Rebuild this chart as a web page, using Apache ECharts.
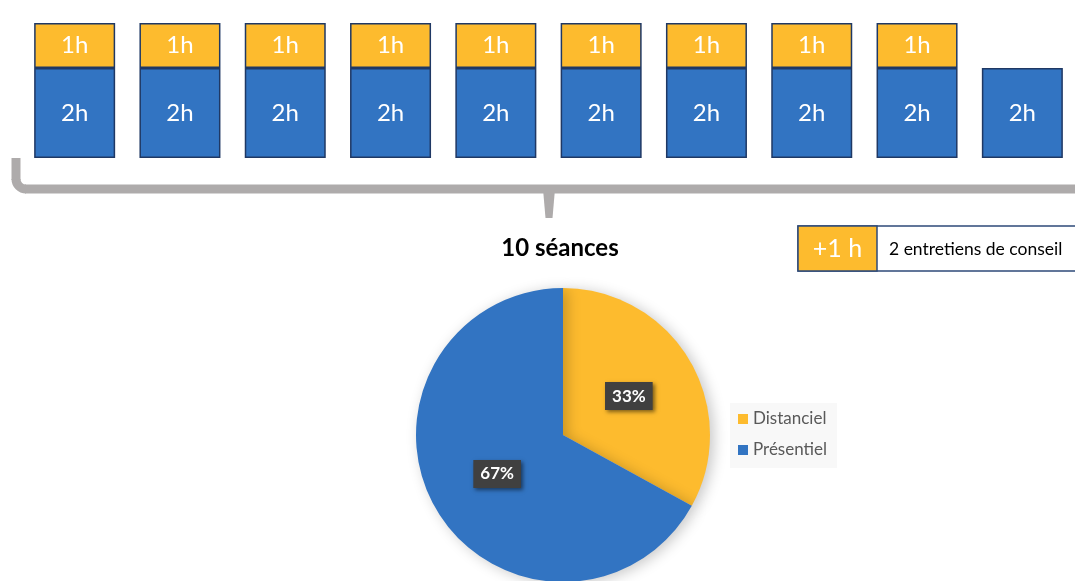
<!DOCTYPE html>
<html>
<head>
<meta charset="utf-8">
<script src="https://cdn.jsdelivr.net/npm/echarts@6/dist/echarts.min.js"></script>
<style>
html,body{margin:0;padding:0;background:#fff;}
#c{width:1075px;height:581px;}
</style>
</head>
<body>
<div id="c"></div>
<script>
// ---- data ----
const sessions = ['S1','S2','S3','S4','S5','S6','S7','S8','S9','S10'];
const presentielHours = [2,2,2,2,2,2,2,2,2,2];
const distancielHours = [1,1,1,1,1,1,1,1,1,null];
const pieLabels = ['Distanciel','Présentiel'];
const pieValues = [33,67];
const titleText = '10 séances';
const extraHours = '+1 h';
const extraText = '2 entretiens de conseil';

const YELLOW = '#FDBB2E';
const BLUE = '#3274C2';
const NAVY = '#1F3864';
const GRAY = '#AEABAB';
const FONT = 'Lato, "Open Sans", sans-serif';

const chart = echarts.init(document.getElementById('c'), null, {renderer:'canvas'});
chart.setOption({
  animation:false,
  backgroundColor:'#fff',
  textStyle:{fontFamily:FONT},
  grid:{left:22, top:23, width:1054, height:135, containLabel:false},
  xAxis:{type:'category', data:sessions, show:false},
  yAxis:{type:'value', min:0, max:3, show:false},
  legend:{
    data:pieLabels, orient:'vertical', left:730, top:403,
    padding:[6,10,8,8], itemGap:11, itemWidth:10, itemHeight:10, icon:'rect',
    backgroundColor:'#f8f8f8',
    textStyle:{fontFamily:FONT, fontSize:17, color:'#595959', lineHeight:20}
  },
  series:[
    {
      type:'bar', name:'2h', stack:'s', data:presentielHours, barWidth:81,
      itemStyle:{color:BLUE, borderColor:NAVY, borderWidth:1.5},
      label:{show:true, position:'inside', formatter:'{c}h', color:'#fff', fontSize:24, fontFamily:FONT},
      emphasis:{disabled:true}
    },
    {
      type:'bar', name:'1h', stack:'s', data:distancielHours, barWidth:81,
      itemStyle:{color:YELLOW, borderColor:NAVY, borderWidth:1.5},
      label:{show:true, position:'inside', formatter:'{c}h', color:'#fff', fontSize:24, fontFamily:FONT},
      emphasis:{disabled:true}
    },
    {
      type:'pie', center:[563,435], radius:147, startAngle:90, clockwise:true,
      data:pieLabels.map((n,i)=>({name:n, value:pieValues[i]})),
      color:[YELLOW, BLUE],
      itemStyle:{shadowBlur:14, shadowColor:'rgba(0,0,0,0.22)', shadowOffsetX:4, shadowOffsetY:2},
      label:{
        show:true, position:'inside', formatter:'{d}%',
        color:'#fff', fontWeight:'bold', fontSize:17, fontFamily:FONT,
        backgroundColor:'#404040', padding:[6,7,5,7],
        shadowBlur:4, shadowColor:'rgba(0,0,0,0.5)', shadowOffsetX:2, shadowOffsetY:2
      },
      labelLine:{show:false},
      emphasis:{disabled:true}
    }
  ],
  graphic:[
    // brace
    {type:'line', shape:{x1:16, y1:158, x2:16, y2:180}, style:{stroke:GRAY, lineWidth:9}},
    {type:'arc', shape:{cx:26, cy:179, r:10, startAngle:Math.PI/2, endAngle:Math.PI, clockwise:true}, style:{stroke:GRAY, lineWidth:9, fill:null}},
    {type:'line', shape:{x1:25, y1:189, x2:1080, y2:189}, style:{stroke:GRAY, lineWidth:9}},
    {type:'polygon', shape:{points:[[543,189],[555,189],[552.5,218],[545.5,218]]}, style:{fill:GRAY}},
    // title
    {type:'text', x:560, y:248, style:{text:titleText, fill:'#000', font:'bold 24px '+FONT, textAlign:'center', textVerticalAlign:'middle'}},
    // extra box
    {type:'rect', shape:{x:798, y:226, width:300, height:45}, style:{fill:'#fff', stroke:'#2E4A78', lineWidth:1.5}},
    {type:'rect', shape:{x:798, y:226, width:79, height:45}, style:{fill:YELLOW, stroke:'#2E4A78', lineWidth:1.5}},
    {type:'text', x:837.5, y:249, style:{text:extraHours, fill:'#fff', font:'25px '+FONT, textAlign:'center', textVerticalAlign:'middle'}},
    {type:'text', x:889, y:249, style:{text:extraText, fill:'#000', font:'17.5px '+FONT, textAlign:'left', textVerticalAlign:'middle'}}
  ]
});
</script>
</body>
</html>
